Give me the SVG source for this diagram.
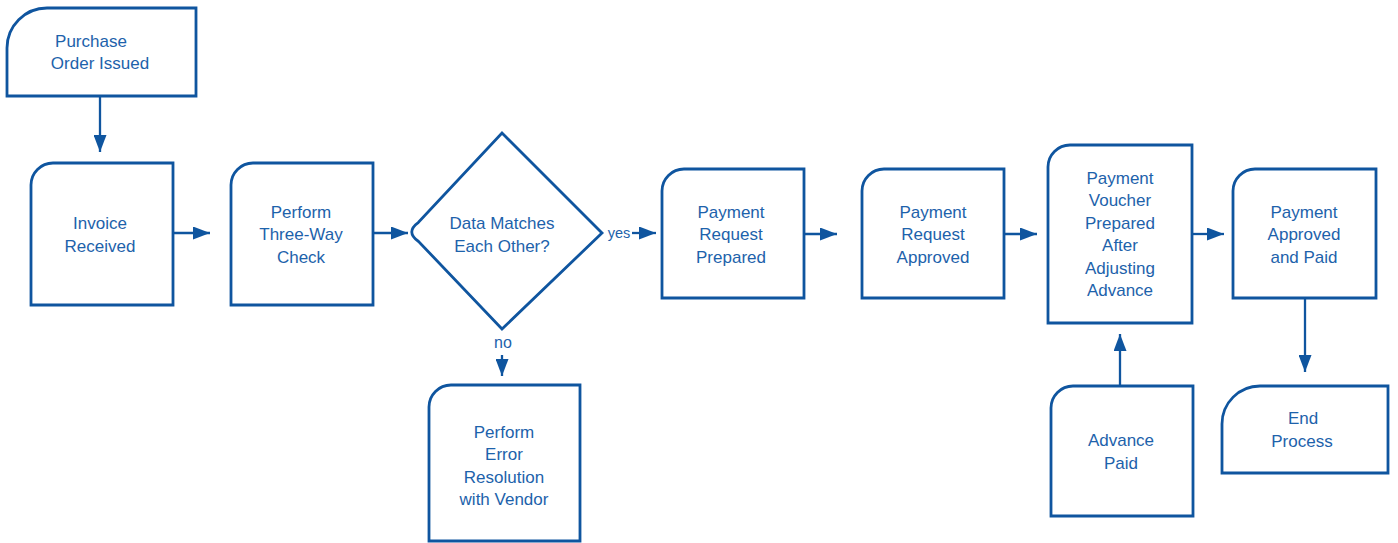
<svg xmlns="http://www.w3.org/2000/svg" width="1398" height="543" viewBox="0 0 1398 543">
  <style>
    .box { fill: #ffffff; stroke: #0f559f; stroke-width: 2.8; stroke-linejoin: miter; }
    .lbl { font-family: "Liberation Sans", Arial, sans-serif; font-size: 17px; fill: #1d62ab; text-anchor: middle; }
    .small { font-size: 14.5px; }
    .edge { fill: none; stroke: #0f559f; stroke-width: 2.3; marker-end: url(#arrow); }
  </style>
  <defs>
    <marker id="arrow" viewBox="0 0 17 13" refX="17" refY="6.5" markerWidth="17" markerHeight="13" markerUnits="userSpaceOnUse" orient="auto">
      <path d="M0,0 L17,6.5 L0,13 Z" fill="#0f559f"/>
    </marker>
  </defs>
  <rect width="1398" height="543" fill="#ffffff"/>

  <!-- connectors -->
  <g id="connectors">
    <path class="edge" d="M100,96 V152"/>
    <path class="edge" d="M173,233 H210"/>
    <path class="edge" d="M373,233 H408"/>
    <path class="edge" d="M632,233 H656"/>
    <path class="edge" d="M502,355 V376"/>
    <path class="edge" d="M804,234 H837"/>
    <path class="edge" d="M1004,234 H1037"/>
    <path class="edge" d="M1192,234 H1224"/>
    <path class="edge" d="M1305,298 V372"/>
    <path class="edge" d="M1120,386 V334"/>
    <text class="lbl small" x="619" y="238">yes</text>
    <text class="lbl" x="503" y="348" style="font-size:16px">no</text>
  </g>

  <!-- nodes -->
  <g id="n-purchase-order">
    <path class="box" d="M7,48 A40,40 0 0 1 47,8 H196 V96 H7 Z"/>
    <text class="lbl" x="91" y="47">Purchase</text>
    <text class="lbl" x="100" y="69">Order Issued</text>
  </g>

  <g id="n-invoice">
    <path class="box" d="M31,185 A22,22 0 0 1 53,163 H173 V305 H31 Z"/>
    <text class="lbl" x="100" y="229">Invoice</text>
    <text class="lbl" x="100" y="252">Received</text>
  </g>

  <g id="n-three-way">
    <path class="box" d="M231,185 A22,22 0 0 1 253,163 H373 V305 H231 Z"/>
    <text class="lbl" x="301" y="218">Perform</text>
    <text class="lbl" x="301" y="240">Three-Way</text>
    <text class="lbl" x="301" y="263">Check</text>
  </g>

  <g id="n-decision">
    <path class="box" d="M502,133 L602,233 L502,329 L418.6,241.5 Q405,232 418.5,222.3 Z"/>
    <text class="lbl" x="502" y="229">Data Matches</text>
    <text class="lbl" x="502" y="252">Each Other?</text>
  </g>

  <g id="n-error-resolution">
    <path class="box" d="M429,407 A22,22 0 0 1 451,385 H580 V541 H429 Z"/>
    <text class="lbl" x="504" y="438">Perform</text>
    <text class="lbl" x="504" y="460">Error</text>
    <text class="lbl" x="504" y="483">Resolution</text>
    <text class="lbl" x="504" y="505">with Vendor</text>
  </g>

  <g id="n-request-prepared">
    <path class="box" d="M662,191 A22,22 0 0 1 684,169 H804 V298 H662 Z"/>
    <text class="lbl" x="731" y="218">Payment</text>
    <text class="lbl" x="731" y="240">Request</text>
    <text class="lbl" x="731" y="263">Prepared</text>
  </g>

  <g id="n-request-approved">
    <path class="box" d="M862,191 A22,22 0 0 1 884,169 H1004 V298 H862 Z"/>
    <text class="lbl" x="933" y="218">Payment</text>
    <text class="lbl" x="933" y="240">Request</text>
    <text class="lbl" x="933" y="263">Approved</text>
  </g>

  <g id="n-voucher">
    <path class="box" d="M1048,167 A22,22 0 0 1 1070,145 H1192 V323 H1048 Z"/>
    <text class="lbl" x="1120" y="184">Payment</text>
    <text class="lbl" x="1120" y="206">Voucher</text>
    <text class="lbl" x="1120" y="229">Prepared</text>
    <text class="lbl" x="1120" y="251">After</text>
    <text class="lbl" x="1120" y="274">Adjusting</text>
    <text class="lbl" x="1120" y="296">Advance</text>
  </g>

  <g id="n-approved-paid">
    <path class="box" d="M1233,191 A22,22 0 0 1 1255,169 H1376 V298 H1233 Z"/>
    <text class="lbl" x="1304" y="218">Payment</text>
    <text class="lbl" x="1304" y="240">Approved</text>
    <text class="lbl" x="1304" y="263">and Paid</text>
  </g>

  <g id="n-advance-paid">
    <path class="box" d="M1051,408 A22,22 0 0 1 1073,386 H1193 V516 H1051 Z"/>
    <text class="lbl" x="1121" y="446">Advance</text>
    <text class="lbl" x="1121" y="469">Paid</text>
  </g>

  <g id="n-end">
    <path class="box" d="M1222,424 A38,38 0 0 1 1260,386 H1388 V473 H1222 Z"/>
    <text class="lbl" x="1303" y="424">End</text>
    <text class="lbl" x="1302" y="447">Process</text>
  </g>
</svg>
